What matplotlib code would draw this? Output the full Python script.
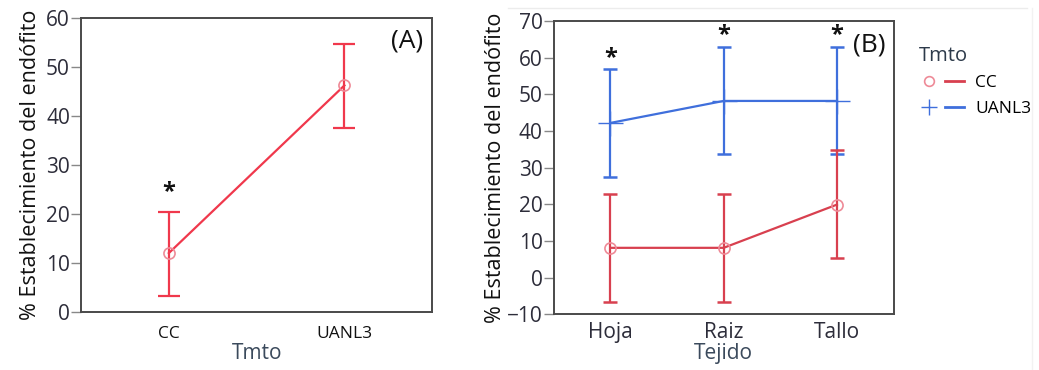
import matplotlib
matplotlib.use("Agg")
import matplotlib.pyplot as plt
from matplotlib.lines import Line2D
from matplotlib.legend_handler import HandlerTuple

plt.rcParams["font.family"] = ["Open Sans", "DejaVu Sans"]

# panel A: establishment by treatment
tmto = ["CC", "UANL3"]
a_mean = [12.0, 46.2]
a_low = [3.3, 37.6]
a_high = [20.3, 54.6]
a_star = [24.5, None]

# panel B: establishment by tissue and treatment
tejido = ["Hoja", "Raiz", "Tallo"]
cc_mean = [8.1, 8.1, 19.9]
cc_low = [-6.7, -6.7, 5.2]
cc_high = [22.9, 22.9, 34.7]
uanl_mean = [42.2, 48.2, 48.2]
uanl_low = [27.4, 33.6, 33.6]
uanl_high = [56.9, 62.8, 62.8]
b_star = [60.0, 66.3, 66.3]

RED_A = "#f0384c"
RED_B = "#d8404f"
BLUE = "#3f6fdc"
PINK = "#ee8a97"
TXT = "#2d2d3a"
SPINE = "#4a4a4a"
YLABEL = "% Establecimiento del endófito"


def style(ax):
    for s in ax.spines.values():
        s.set_color(SPINE)
        s.set_linewidth(1.4)
    ax.tick_params(axis="y", direction="out", length=7, width=1.0, color="#888888",
                   labelsize=15, labelcolor=TXT, pad=1)
    ax.tick_params(axis="x", length=0, pad=10, labelcolor="#111111")


def errs(mean, low, high):
    return [[m - l for m, l in zip(mean, low)], [h - m for m, h in zip(mean, high)]]


fig = plt.figure(figsize=(10.39, 3.70), dpi=100)

# faint frame lines from the source screenshot
fig.add_artist(Line2D([508 / 1039, 1027 / 1039], [1 - 8 / 370, 1 - 8 / 370],
                      transform=fig.transFigure, color="#ececec", lw=1))
fig.add_artist(Line2D([1032 / 1039, 1032 / 1039], [0, 1 - 8 / 370],
                      transform=fig.transFigure, color="#f2f2f2", lw=1))

# ---- panel A
axA = fig.add_axes([0.078, 0.157, 0.338, 0.795])
xa = list(range(len(tmto)))
axA.errorbar(xa, a_mean, yerr=errs(a_mean, a_low, a_high), color=RED_A, lw=1.6,
             capsize=8, capthick=1.6, fmt="none")
axA.plot(xa, a_mean, color=RED_A, lw=1.6)
axA.plot(xa, a_mean, "o", mfc="none", mec=PINK, ms=8, mew=1.2)
for x, s in zip(xa, a_star):
    if s is not None:
        axA.text(x, s, "*", ha="center", va="center", fontsize=17, fontweight="bold",
                 color="#111111")
axA.set_xlim(-0.5, 1.5)
axA.set_ylim(0, 60)
axA.set_yticks(range(0, 61, 10))
axA.set_xticks(xa)
axA.set_xticklabels(tmto, fontsize=12.5)
axA.set_xlabel("Tmto", fontsize=15, color="#3b4a5c", labelpad=1)
axA.set_ylabel(YLABEL, fontsize=15.5, color="#111111", labelpad=4)
axA.text(0.975, 0.92, "(A)", transform=axA.transAxes, ha="right", va="center",
         fontsize=19, color="#111111")
style(axA)

# ---- panel B
axB = fig.add_axes([0.533, 0.151, 0.327, 0.792])
xb = list(range(len(tejido)))
axB.errorbar(xb, uanl_mean, yerr=errs(uanl_mean, uanl_low, uanl_high), color=BLUE,
             lw=1.6, capsize=5, capthick=1.8, fmt="none")
axB.errorbar(xb, cc_mean, yerr=errs(cc_mean, cc_low, cc_high), color=RED_B,
             lw=1.6, capsize=5, capthick=1.8, fmt="none")
axB.plot(xb, uanl_mean, color=BLUE, lw=1.6)
axB.plot(xb, uanl_mean, "+", color=BLUE, ms=18, mew=1.0)
axB.plot(xb, cc_mean, color=RED_B, lw=1.6)
axB.plot(xb, cc_mean, "o", mfc="none", mec=PINK, ms=8, mew=1.2)
for x, s in zip(xb, b_star):
    axB.text(x, s, "*", ha="center", va="center", fontsize=17, fontweight="bold",
             color="#111111")
axB.set_xlim(-0.5, 2.5)
axB.set_ylim(-10, 70)
axB.set_yticks(range(-10, 71, 10))
axB.set_xticks(xb)
axB.set_xticklabels(tejido)
axB.set_xlabel("Tejido", fontsize=15, color="#3b4a5c", labelpad=0)
axB.set_ylabel(YLABEL, fontsize=15.5, color="#111111", labelpad=1)
axB.text(0.975, 0.92, "(B)", transform=axB.transAxes, ha="right", va="center",
         fontsize=19, color="#111111")
style(axB)
axB.tick_params(axis="x", labelsize=15, labelcolor=TXT, pad=6)

handles = [
    (Line2D([], [], ls="none", marker="o", mfc="none", mec=PINK, ms=7, mew=1.2),
     Line2D([], [], color=RED_B, lw=2)),
    (Line2D([], [], ls="none", marker="+", color=BLUE, ms=11, mew=1.0),
     Line2D([], [], color=BLUE, lw=2)),
]
leg = axB.legend(handles, ["CC", "UANL3"], title="Tmto", frameon=False,
                 loc="upper left", bbox_to_anchor=(1.03, 0.97),
                 handler_map={tuple: HandlerTuple(ndivide=None, pad=0.3)},
                 handlelength=2.6, fontsize=12.5, title_fontsize=14.5, alignment="left",
                 labelspacing=0.55, handletextpad=0.6)
leg.get_title().set_color("#2d3a4a")

fig.savefig("out.png", dpi=100)
